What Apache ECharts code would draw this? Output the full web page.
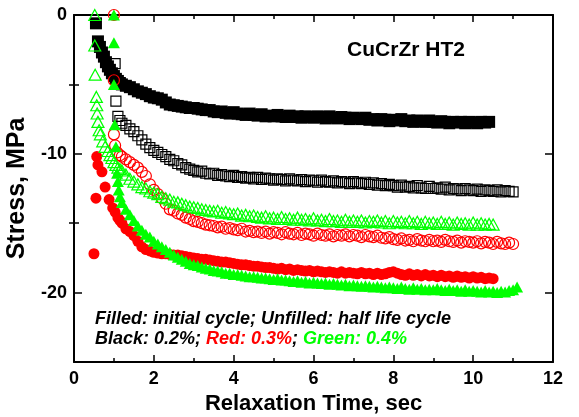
<!DOCTYPE html>
<html lang="en">
<head>
<meta charset="UTF-8">
<script src="https://cdn.jsdelivr.net/npm/echarts@6.0.0/dist/echarts.min.js"></script>
<style>
  * { margin: 0; padding: 0; }
  body { background: #fff; }
  #chart { width: 579px; height: 417px; }
</style>
</head>
<body>
<div id="chart"></div>
<script>
// shared time grid (s) for the dense part of each curve
const tGrid = [1.2,1.3,1.4,1.5,1.6,1.7,1.8,1.9,2.0,
  2.1,2.2,2.3,2.4,2.5,2.6,2.7,2.8,2.9,3.0,
  3.1,3.2,3.3,3.4,3.5,3.6,3.7,3.8,3.9,4.0,
  4.1,4.2,4.3,4.4,4.5,4.6,4.7,4.8,4.9,5.0,
  5.1,5.2,5.3,5.4,5.5,5.6,5.7,5.8,5.9,6.0,
  6.1,6.2,6.3,6.4,6.5,6.6,6.7,6.8,6.9,7.0,
  7.1,7.2,7.3,7.4,7.5,7.6,7.7,7.8,7.9,8.0,
  8.1,8.2,8.3,8.4,8.5,8.6,8.7,8.8,8.9,9.0,
  9.1,9.2,9.3,9.4,9.5,9.6,9.7,9.8,9.9,10.0,
  10.1,10.2,10.3,10.4,10.5,10.6,10.7,10.8,10.9,11.0,11.1];

// black 0.2%, initial cycle (filled)
const blackFilledEarly = [[0.55,-0.6],[0.6,-1.9],[0.65,-2.3],[0.7,-2.7],[0.75,-3.0],[0.8,-3.4],[0.85,-3.7],[0.9,-3.95],[0.95,-4.2],[1.0,-4.4],[1.05,-4.6],[1.1,-4.75],[1.15,-4.9]];
const blackFilled = [-5.0,-5.1,-5.2,-5.35,-5.5,-5.6,-5.7,-5.85,-5.95,
  -6.0,-6.1,-6.3,-6.45,-6.5,-6.55,-6.6,-6.65,-6.7,-6.7,
  -6.75,-6.8,-6.85,-6.85,-6.95,-7.0,-6.95,-7.05,-7.1,-7.0,
  -7.1,-7.15,-7.2,-7.1,-7.2,-7.25,-7.15,-7.3,-7.25,-7.3,
  -7.2,-7.3,-7.35,-7.25,-7.35,-7.3,-7.4,-7.3,-7.35,-7.4,
  -7.3,-7.35,-7.45,-7.3,-7.4,-7.45,-7.35,-7.4,-7.5,-7.4,
  -7.45,-7.5,-7.4,-7.55,-7.5,-7.6,-7.5,-7.55,-7.65,-7.55,
  -7.6,-7.5,-7.65,-7.6,-7.7,-7.6,-7.65,-7.7,-7.6,-7.7,
  -7.75,-7.65,-7.7,-7.8,-7.7,-7.75,-7.7,-7.8,-7.7,-7.75,
  -7.8,-7.7,-7.75,-7.7];

// black 0.2%, half life cycle (open)
const blackOpenEarly = [[1.03,-3.5],[1.05,-6.2],[1.1,-7.3],[1.15,-7.6]];
const blackOpen = [-7.8,-7.95,-8.2,-8.4,-8.7,-9.0,-9.3,-9.55,-9.75,
  -9.9,-10.05,-10.2,-10.4,-10.5,-10.7,-10.8,-11.0,-11.1,-11.2,
  -11.3,-11.25,-11.4,-11.45,-11.4,-11.55,-11.5,-11.6,-11.65,-11.55,
  -11.7,-11.65,-11.75,-11.7,-11.8,-11.7,-11.85,-11.75,-11.8,-11.9,
  -11.8,-11.85,-11.95,-11.8,-11.9,-11.95,-11.85,-12.0,-11.9,-11.95,
  -12.05,-11.9,-12.0,-12.05,-11.95,-12.1,-12.0,-12.05,-12.15,-12.0,
  -12.1,-12.15,-12.05,-12.2,-12.1,-12.25,-12.15,-12.3,-12.2,-12.3,
  -12.4,-12.25,-12.4,-12.35,-12.45,-12.3,-12.45,-12.5,-12.35,-12.5,
  -12.45,-12.55,-12.4,-12.6,-12.5,-12.55,-12.65,-12.5,-12.6,-12.65,
  -12.55,-12.7,-12.6,-12.65,-12.7,-12.6,-12.75,-12.65,-12.7,-12.75];

// red 0.3%, initial cycle (filled)
const redFilledEarly = [[0.5,-17.2],[0.55,-13.2],[0.57,-10.2],[0.6,-10.8],[0.7,-11.3],[0.78,-12.4],[0.88,-13.3],[0.97,-13.9],[1.03,-14.2],[1.1,-14.6],[1.15,-14.8]];
const redFilled = [-15.0,-15.4,-15.6,-15.9,-16.3,-16.7,-16.9,-17.0,-17.1,
  -17.15,-17.2,-17.2,-17.25,-17.3,-17.3,-17.35,-17.4,-17.45,-17.5,
  -17.55,-17.6,-17.6,-17.65,-17.7,-17.75,-17.8,-17.8,-17.85,-17.9,
  -17.95,-18.0,-18.0,-18.05,-18.1,-18.1,-18.15,-18.2,-18.2,-18.25,
  -18.3,-18.25,-18.35,-18.3,-18.4,-18.35,-18.4,-18.45,-18.4,-18.5,
  -18.45,-18.5,-18.55,-18.5,-18.55,-18.6,-18.5,-18.6,-18.55,-18.6,
  -18.65,-18.55,-18.65,-18.6,-18.7,-18.6,-18.7,-18.65,-18.55,-18.5,
  -18.6,-18.7,-18.75,-18.65,-18.75,-18.7,-18.8,-18.7,-18.8,-18.75,
  -18.85,-18.75,-18.85,-18.8,-18.9,-18.8,-18.9,-18.85,-18.95,-18.85,
  -18.95,-18.9,-19.0,-18.95,-19.0];

// red 0.3%, half life cycle (open)
const redOpenEarly = [[1.0,0],[1.0,-4.7],[1.0,-8.6],[1.03,-9.4],[1.08,-9.9],[1.15,-10.1]];
const redOpen = [-10.2,-10.4,-10.6,-10.8,-11.0,-11.3,-11.6,-12.2,-12.6,
  -12.9,-13.2,-13.6,-14.0,-14.1,-14.3,-14.4,-14.6,-14.7,-14.85,
  -14.9,-15.0,-15.1,-15.15,-15.2,-15.3,-15.25,-15.4,-15.35,-15.45,
  -15.5,-15.4,-15.6,-15.55,-15.65,-15.6,-15.7,-15.6,-15.75,-15.65,
  -15.7,-15.8,-15.65,-15.75,-15.8,-15.7,-15.85,-15.75,-15.8,-15.9,
  -15.75,-15.85,-15.9,-15.8,-15.95,-15.85,-15.9,-15.8,-15.95,-15.85,
  -15.9,-16.0,-15.85,-15.95,-16.0,-15.9,-16.05,-16.1,-16.0,-16.15,
  -16.2,-16.1,-16.25,-16.2,-16.3,-16.15,-16.25,-16.3,-16.2,-16.3,
  -16.25,-16.35,-16.2,-16.3,-16.35,-16.25,-16.4,-16.3,-16.35,-16.4,
  -16.3,-16.45,-16.35,-16.4,-16.5,-16.35,-16.45,-16.5,-16.4,-16.5];

// green 0.4%, initial cycle (filled)
const greenFilledEarly = [[1.0,0],[1.0,-2.0],[1.0,-5.0],[1.02,-7.9],[1.05,-9.5],[1.08,-11.4],[1.1,-12.0],[1.12,-12.6],[1.15,-13.1]];
const greenFilled = [-13.5,-14.0,-14.4,-14.8,-15.2,-15.5,-15.8,-16.0,-16.3,
  -16.5,-16.7,-16.9,-17.1,-17.3,-17.45,-17.6,-17.75,-17.9,-18.0,
  -18.05,-18.15,-18.25,-18.3,-18.4,-18.45,-18.5,-18.6,-18.6,-18.7,
  -18.7,-18.75,-18.8,-18.85,-18.85,-18.9,-18.95,-18.95,-19.0,-19.05,
  -19.0,-19.1,-19.1,-19.15,-19.2,-19.15,-19.25,-19.2,-19.3,-19.25,
  -19.3,-19.35,-19.3,-19.4,-19.35,-19.4,-19.45,-19.4,-19.5,-19.45,
  -19.5,-19.55,-19.5,-19.55,-19.6,-19.55,-19.6,-19.65,-19.6,-19.65,
  -19.7,-19.6,-19.7,-19.75,-19.65,-19.75,-19.7,-19.8,-19.75,-19.8,
  -19.7,-19.8,-19.85,-19.75,-19.85,-19.8,-19.9,-19.8,-19.9,-19.85,
  -19.9,-19.95,-19.85,-19.95,-19.9,-20.0,-19.9,-19.95,-19.85,-19.8,-19.6];

// green 0.4%, half life cycle (open)
const greenOpenEarly = [[0.52,0],[0.52,-2.2],[0.53,-4.3],[0.56,-5.9],[0.57,-6.5],[0.58,-7.1],[0.6,-7.7],[0.63,-8.3],[0.66,-8.6],[0.72,-9.1],[0.78,-9.5],[0.85,-9.8],[0.9,-10.1],[0.95,-10.3],[1.0,-10.6],[1.05,-10.8],[1.1,-11.0],[1.15,-11.1]];
const greenOpen = [-11.2,-11.5,-11.8,-12.0,-12.2,-12.4,-12.5,-12.7,-12.8,
  -12.9,-13.1,-13.2,-13.3,-13.45,-13.5,-13.6,-13.7,-13.8,-13.85,
  -13.9,-14.0,-14.05,-14.1,-14.15,-14.1,-14.25,-14.2,-14.3,-14.35,
  -14.3,-14.45,-14.4,-14.5,-14.45,-14.55,-14.6,-14.5,-14.65,-14.6,
  -14.7,-14.55,-14.7,-14.65,-14.75,-14.6,-14.75,-14.7,-14.8,-14.65,
  -14.8,-14.75,-14.85,-14.7,-14.85,-14.8,-14.9,-14.75,-14.9,-14.8,
  -14.9,-14.8,-14.95,-14.85,-14.9,-14.8,-14.95,-14.85,-15.0,-14.85,
  -14.95,-14.9,-15.0,-14.85,-15.0,-14.9,-15.05,-14.9,-15.0,-14.95,
  -15.05,-14.9,-15.05,-14.95,-15.1,-14.95,-15.05,-15.0,-15.1,-14.95,
  -15.1,-15.0,-15.1,-15.05,-15.1];

const xTicks = [0, 12, 2];
const yMajor = [0, -10, -20];
const yMinor = [-5, -15];

const RED = '#ff0000', GREEN = '#00ff00', BLACK = '#000000';
const FONT = '"Liberation Sans", Arial, Helvetica, sans-serif';

const build = (early, vals) => early.concat(vals.map((v, i) => [tGrid[i], v]));

const filled = (name, data, symbol, size, color) => ({
  name, type: 'scatter', data, symbol, symbolSize: size, clip: false,
  itemStyle: {color, opacity: 1}
});
const open = (name, data, symbol, size, color) => ({
  name, type: 'scatter', data, symbol, symbolSize: size, clip: false,
  itemStyle: {color: 'rgba(255,255,255,0)', borderColor: color, borderWidth: 1.2, opacity: 1}
});

const axisLine = {show: true, onZero: false, lineStyle: {color: BLACK, width: 2}};
const labelStyle = {color: BLACK, fontSize: 18, fontWeight: 'bold', fontFamily: FONT};

const chart = echarts.init(document.getElementById('chart'));
chart.setOption({
  animation: false,
  backgroundColor: '#fff',
  grid: {left: 74, right: 26, top: 15, bottom: 55, containLabel: false, outerBoundsMode: 'none'},
  xAxis: [
    {
      type: 'value', position: 'bottom', min: xTicks[0], max: xTicks[1], interval: xTicks[2],
      axisLine, splitLine: {show: false},
      axisTick: {inside: true, length: 7, lineStyle: {color: BLACK, width: 1.5}},
      minorTick: {show: true, splitNumber: 2, length: 4, lineStyle: {color: BLACK, width: 1.5}},
      axisLabel: Object.assign({margin: 8}, labelStyle),
      name: 'Relaxation Time, sec', nameLocation: 'middle', nameGap: 29,
      nameTextStyle: {color: BLACK, fontSize: 22, fontWeight: 'bold', fontFamily: FONT}
    },
    {
      type: 'value', position: 'top', min: xTicks[0], max: xTicks[1], interval: xTicks[2],
      axisLine, splitLine: {show: false},
      axisTick: {inside: true, length: 7, lineStyle: {color: BLACK, width: 1.5}},
      minorTick: {show: true, splitNumber: 2, length: 4, lineStyle: {color: BLACK, width: 1.5}},
      axisLabel: {show: false}
    }
  ],
  yAxis: [
    {
      type: 'value', position: 'left', min: -25, max: 0,
      axisLine, splitLine: {show: false},
      axisTick: {inside: true, length: 8, customValues: yMajor, lineStyle: {color: BLACK, width: 1.5}},
      axisLabel: Object.assign({margin: 7, customValues: yMajor}, labelStyle),
      name: 'Stress, MPa', nameLocation: 'middle', nameGap: 32,
      nameTextStyle: {color: BLACK, fontSize: 25, fontWeight: 'bold', fontFamily: FONT}
    },
    {
      type: 'value', position: 'left', min: -25, max: 0,
      axisLine: {show: false}, splitLine: {show: false},
      axisTick: {inside: true, length: 5, customValues: yMinor, lineStyle: {color: BLACK, width: 1.5}},
      axisLabel: {show: false}
    },
    {
      type: 'value', position: 'right', min: -25, max: 0,
      axisLine, splitLine: {show: false},
      axisTick: {inside: true, length: 8, customValues: yMajor, lineStyle: {color: BLACK, width: 1.5}},
      axisLabel: {show: false}
    },
    {
      type: 'value', position: 'right', min: -25, max: 0,
      axisLine: {show: false}, splitLine: {show: false},
      axisTick: {inside: true, length: 5, customValues: yMinor, lineStyle: {color: BLACK, width: 1.5}},
      axisLabel: {show: false}
    }
  ],
  series: [
    filled('Black initial', build(blackFilledEarly, blackFilled), 'rect', 12, BLACK),
    open('Black half life', build(blackOpenEarly, blackOpen), 'rect', 10, BLACK),
    filled('Red initial', build(redFilledEarly, redFilled), 'circle', 11, RED),
    open('Red half life', build(redOpenEarly, redOpen), 'circle', 11, RED),
    filled('Green initial', build(greenFilledEarly, greenFilled), 'triangle', [12, 11], GREEN),
    open('Green half life', build(greenOpenEarly, greenOpen), 'triangle', [12, 11], GREEN)
  ],
  graphic: [
    {
      type: 'text', x: 406, y: 50,
      style: {text: 'CuCrZr HT2', fill: BLACK, font: 'bold 21px ' + FONT, align: 'center', verticalAlign: 'middle'}
    },
    {
      type: 'text', x: 95, y: 319,
      style: {text: 'Filled: initial cycle; Unfilled: half life cycle', fill: BLACK,
        font: 'italic bold 18px ' + FONT, align: 'left', verticalAlign: 'middle'}
    },
    {
      type: 'text', x: 95, y: 339,
      style: {
        text: '{k|Black: 0.2%; }{r|Red: 0.3%}{k|; }{g|Green: 0.4%}',
        font: 'italic bold 18px ' + FONT, align: 'left', verticalAlign: 'middle',
        rich: {
          k: {fill: BLACK, font: 'italic bold 18px ' + FONT},
          r: {fill: RED, font: 'italic bold 18px ' + FONT},
          g: {fill: GREEN, font: 'italic bold 18px ' + FONT}
        }
      }
    }
  ]
});
</script>
</body>
</html>
